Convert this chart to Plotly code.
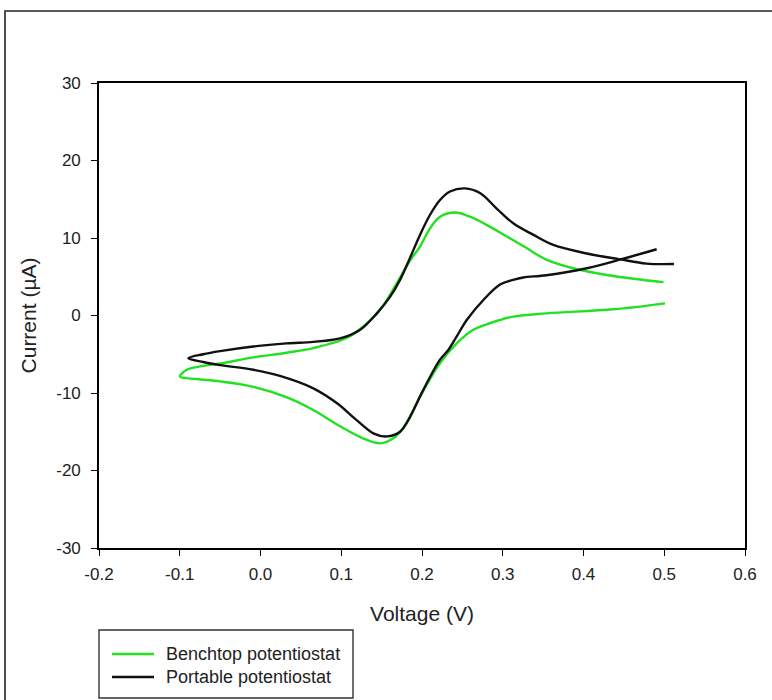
import plotly.graph_objects as go

# Cyclic voltammograms: potential (V) vs current (µA)
bench_v = [0.501, 0.437, 0.354, 0.313, 0.284, 0.263, 0.243, 0.222, 0.1975, 0.181, 0.1645,
           0.148, 0.127, 0.0985, 0.0654, 0.0336, -0.009, -0.050, -0.079, -0.0997,
           -0.0914, -0.071, -0.050, -0.009, 0.0324, 0.0654, 0.1067, 0.127, 0.148, 0.1687,
           0.186, 0.1975, 0.21, 0.2223, 0.2409, 0.2595, 0.280, 0.305, 0.3296, 0.354, 0.387,
           0.437, 0.499]
bench_i = [1.57, 0.8, 0.28, -0.15, -1.0, -1.87, -3.6, -6.2, -10.5, -13.9, -15.85,
           -16.5, -15.85, -14.3, -12.2, -10.6, -9.2, -8.5, -8.2, -7.9,
           -7.0, -6.5, -6.2, -5.4, -4.8, -4.2, -2.9, -1.45, 0.7, 4.15,
           7.2, 8.9, 11.25, 12.75, 13.3, 12.75, 11.7, 10.2, 8.7, 7.2, 6.1,
           5.1, 4.3]

portable_v = [0.4906, 0.445, 0.404, 0.354, 0.3254, 0.313, 0.2966, 0.276, 0.2554, 0.243,
              0.2326, 0.2223, 0.2016, 0.185, 0.1728, 0.1563, 0.1397, 0.119, 0.0944, 0.0654,
              0.024, -0.009, -0.050, -0.071, -0.0894,
              -0.071, -0.050, -0.009, 0.0324, 0.0654, 0.0985, 0.123, 0.144, 0.1604, 0.1728,
              0.185, 0.1975, 0.21, 0.2223, 0.2347, 0.2533, 0.2718, 0.2925, 0.313, 0.338,
              0.3626, 0.404, 0.445, 0.478, 0.512]
portable_i = [8.55, 7.2, 6.1, 5.2, 4.9, 4.6, 4.0, 2.0, -0.58, -2.7,
              -4.45, -5.7, -9.6, -13.1, -15.0, -15.6, -15.2, -13.5, -11.3, -9.4,
              -7.8, -7.0, -6.4, -6.0, -5.5,
              -5.0, -4.6, -4.0, -3.6, -3.4, -2.95, -1.87, 0.28, 2.4, 4.6,
              7.4, 10.4, 13.0, 14.9, 16.0, 16.4, 15.8, 13.8, 11.9, 10.4,
              9.1, 8.0, 7.25, 6.7, 6.65]

x_ticks = [-0.2, -0.1, 0.0, 0.1, 0.2, 0.3, 0.4, 0.5, 0.6]
x_labels = ["-0.2", "-0.1", "0.0", "0.1", "0.2", "0.3", "0.4", "0.5", "0.6"]
y_ticks = [-30, -20, -10, 0, 10, 20, 30]
y_labels = ["-30", "-20", "-10", "0", "10", "20", "30"]

series_names = ["Benchtop potentiostat", "Portable potentiostat"]
series_colors = ["#22e022", "#111111"]

FONT = "Liberation Sans, Arial, sans-serif"

fig = go.Figure()
for v, i, name, color in [(bench_v, bench_i, series_names[0], series_colors[0]),
                          (portable_v, portable_i, series_names[1], series_colors[1])]:
    fig.add_trace(go.Scatter(x=v, y=i, mode="lines", name=name, showlegend=False,
                             line=dict(color=color, width=2.4, shape="spline", smoothing=1.0)))

axis_common = dict(showline=True, linecolor="black", linewidth=1.6, mirror=True,
                   ticks="outside", ticklen=6, tickwidth=1.4, tickcolor="black",
                   showgrid=False, zeroline=False,
                   tickfont=dict(family=FONT, size=17, color="#222222"))

fig.update_layout(
    width=772, height=700,
    margin=dict(l=99, r=27, t=83, b=152),
    paper_bgcolor="white", plot_bgcolor="white",
    font=dict(family=FONT, color="#222222"),
    xaxis=dict(range=[-0.2, 0.6], tickvals=x_ticks, ticktext=x_labels,
               ticklabelstandoff=4,
               title=dict(text="Voltage (V)", font=dict(family=FONT, size=21), standoff=23),
               **axis_common),
    yaxis=dict(range=[-30, 30], tickvals=y_ticks, ticktext=y_labels,
               ticklabelstandoff=7,
               title=dict(text="Current (µA)", font=dict(family=FONT, size=21), standoff=14),
               **axis_common),
    showlegend=False,
)


def px_x(p):
    return (p - 99) / 646


def px_y(p):
    return (548 - p) / 465


# Legend: frame, line samples and labels
fig.add_shape(type="rect", xref="paper", yref="paper",
              x0=px_x(99), x1=px_x(353), y0=px_y(630), y1=px_y(698),
              line=dict(color="#333333", width=1.4))
for row, (name, color) in enumerate(zip(series_names, series_colors)):
    yy = px_y(654 + 23 * row)
    fig.add_shape(type="line", xref="paper", yref="paper",
                  x0=px_x(112), x1=px_x(154), y0=yy, y1=yy,
                  line=dict(color=color, width=2.4))
    fig.add_annotation(xref="paper", yref="paper", x=px_x(164), y=yy,
                       xanchor="left", yanchor="middle", showarrow=False, text=name,
                       font=dict(family=FONT, size=18, color="#222222"))

# Outer figure frame
fig.add_shape(type="rect", xref="paper", yref="paper",
              x0=px_x(5), x1=px_x(790), y0=px_y(11), y1=px_y(720),
              line=dict(color="#222222", width=1.6))

fig.write_html("out.html")
